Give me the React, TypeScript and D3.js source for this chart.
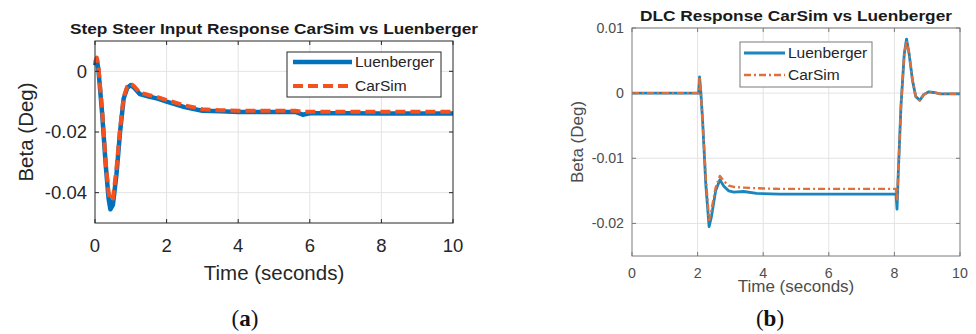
import React from "react";
import * as d3 from "d3";

// (a) step steer
const stepTime = [0, 0.05, 0.1, 0.2, 0.3, 0.38, 0.43, 0.5, 0.6, 0.7, 0.8, 0.9, 1.0, 1.1, 1.25, 1.5, 1.75, 2.0, 2.5, 3.0, 3.5, 4.0, 5.0, 5.6, 5.8, 6.0, 7.0, 8.0, 10.0];
const stepLuenberger = [0.002, 0.004, 0.0, -0.014, -0.031, -0.042, -0.0455, -0.044, -0.034, -0.02, -0.009, -0.0055, -0.0045, -0.0055, -0.0075, -0.0083, -0.009, -0.01, -0.0118, -0.013, -0.0132, -0.0134, -0.0134, -0.0134, -0.0143, -0.0138, -0.0138, -0.0139, -0.0139];
const stepCarSim = [0.003, 0.0045, 0.001, -0.013, -0.03, -0.04, -0.0425, -0.042, -0.032, -0.019, -0.0085, -0.005, -0.004, -0.005, -0.007, -0.0078, -0.0085, -0.0095, -0.0112, -0.0125, -0.0128, -0.013, -0.013, -0.013, -0.0133, -0.0133, -0.0133, -0.0133, -0.0133];

// (b) double lane change
const dlcTime = [0, 2.03, 2.06, 2.1, 2.15, 2.25, 2.35, 2.42, 2.55, 2.68, 2.8, 2.95, 3.1, 3.4, 3.8, 4.5, 5.5, 6.5, 7.5, 8.05, 8.08, 8.12, 8.2, 8.3, 8.37, 8.45, 8.55, 8.65, 8.77, 8.9, 9.05, 9.2, 9.4, 10];
const dlcLuenberger = [0, 0, 0.0025, 0, -0.004, -0.014, -0.0205, -0.019, -0.015, -0.0133, -0.0143, -0.015, -0.0152, -0.0151, -0.0154, -0.0155, -0.0155, -0.0155, -0.0155, -0.0155, -0.0178, -0.012, -0.002, 0.006, 0.0083, 0.006, 0.002, -0.0005, -0.0011, -0.0002, 0.0002, 0.0001, -0.0001, -0.0001];
const dlcCarSim = [0, 0, 0.0025, 0, -0.004, -0.013, -0.0195, -0.018, -0.0145, -0.0127, -0.0135, -0.0142, -0.0144, -0.0145, -0.0146, -0.0147, -0.0147, -0.0147, -0.0147, -0.0147, -0.0165, -0.012, -0.002, 0.006, 0.008, 0.006, 0.002, -0.0005, -0.0011, -0.0002, 0.0002, 0.0001, -0.0001, -0.0001];

const xTicks = [0, 2, 4, 6, 8, 10];
const stepYTicks = [0, -0.02, -0.04];
const dlcYTicks = [0.01, 0, -0.01, -0.02];

const FONT = "'Liberation Sans', Arial, sans-serif";

interface PanelProps {
  box: [number, number, number, number]; // left, top, right, bottom
  yDomain: [number, number];
  yTicks: number[];
  yFmt: (v: number) => string;
  time: number[];
  luen: number[];
  carsim: number[];
  title: string;
  titleY: number;
  titleSize: number;
  titleLen: number;
  tickSize: number;
  tickColor: string;
  tickLabelY: number;
  xLabelY: number;
  labelSize: number;
  yLabelX: number;
  axisColor: string;
  blue: string;
  orange: string;
  blueW: number;
  orangeW: number;
  dash: string;
  legend: [number, number, number, number];
  legendLine: [number, number];
  legendRows: [number, number];
}

const Panel: React.FC<PanelProps> = (p) => {
  const [l, t, r, b] = p.box;
  const x = d3.scaleLinear().domain([0, 10]).range([l, r]);
  const y = d3.scaleLinear().domain(p.yDomain).range([b, t]);
  const line = d3
    .line<number>()
    .x((_, i) => x(p.time[i]))
    .y((d) => y(d));
  const tl = 4;
  const [lx0, ly0, lx1, ly1] = p.legend;

  return (
    <g>
      {/* grid */}
      {xTicks.slice(1, -1).map((v) => (
        <line key={"gx" + v} x1={x(v)} x2={x(v)} y1={t} y2={b} stroke="#e3e3e3" strokeWidth={1} />
      ))}
      {p.yTicks.map((v) => (
        <line key={"gy" + v} x1={l} x2={r} y1={y(v)} y2={y(v)} stroke="#e3e3e3" strokeWidth={1} />
      ))}

      {/* series */}
      <path d={line(p.luen) || ""} fill="none" stroke={p.blue} strokeWidth={p.blueW} strokeLinejoin="round" />
      <path d={line(p.carsim) || ""} fill="none" stroke={p.orange} strokeWidth={p.orangeW} strokeDasharray={p.dash} strokeLinejoin="round" />

      {/* box and ticks */}
      <rect x={l} y={t} width={r - l} height={b - t} fill="none" stroke={p.axisColor} strokeWidth={1} />
      {xTicks.map((v) => (
        <g key={"tx" + v}>
          <line x1={x(v)} x2={x(v)} y1={b} y2={b - tl} stroke={p.axisColor} />
          <line x1={x(v)} x2={x(v)} y1={t} y2={t + tl} stroke={p.axisColor} />
          <text x={x(v)} y={p.tickLabelY} textAnchor="middle" fontSize={p.tickSize} fill={p.tickColor} fontFamily={FONT}>
            {v}
          </text>
        </g>
      ))}
      {p.yTicks.map((v) => (
        <g key={"ty" + v}>
          <line x1={l} x2={l + tl} y1={y(v)} y2={y(v)} stroke={p.axisColor} />
          <line x1={r} x2={r - tl} y1={y(v)} y2={y(v)} stroke={p.axisColor} />
          <text x={l - 8} y={y(v)} dy="0.35em" textAnchor="end" fontSize={p.tickSize} fill={p.tickColor} fontFamily={FONT}>
            {p.yFmt(v)}
          </text>
        </g>
      ))}

      {/* labels */}
      <text x={(l + r) / 2} y={p.titleY} textAnchor="middle" fontSize={p.titleSize} fontWeight="bold" fill="#1a1a1a" fontFamily={FONT} textLength={p.titleLen} lengthAdjust="spacingAndGlyphs">
        {p.title}
      </text>
      <text x={(l + r) / 2} y={p.xLabelY} textAnchor="middle" fontSize={p.labelSize} fill={p.tickColor} fontFamily={FONT}>
        Time (seconds)
      </text>
      <text transform={`translate(${p.yLabelX},${(t + b) / 2}) rotate(-90)`} textAnchor="middle" fontSize={p.labelSize} fill={p.tickColor} fontFamily={FONT}>
        Beta (Deg)
      </text>

      {/* legend */}
      <rect x={lx0} y={ly0} width={lx1 - lx0} height={ly1 - ly0} fill="#fff" stroke={p.axisColor} strokeWidth={1} />
      <line x1={p.legendLine[0]} x2={p.legendLine[1]} y1={p.legendRows[0]} y2={p.legendRows[0]} stroke={p.blue} strokeWidth={p.blueW} />
      <line x1={p.legendLine[0]} x2={p.legendLine[1]} y1={p.legendRows[1]} y2={p.legendRows[1]} stroke={p.orange} strokeWidth={p.orangeW} strokeDasharray={p.dash} />
      <text x={p.legendLine[1] + 3} y={p.legendRows[0]} dy="0.35em" fontSize={15.5} fill="#262626" fontFamily={FONT}>
        Luenberger
      </text>
      <text x={p.legendLine[1] + 3} y={p.legendRows[1]} dy="0.35em" fontSize={15.5} fill="#262626" fontFamily={FONT}>
        CarSim
      </text>
    </g>
  );
};

const App: React.FC = () => {
  const fmt = (v: number) => (v === 0 ? "0" : String(v));
  return (
    <svg width={976} height={334} style={{ position: "absolute", left: 0, top: 0, background: "#fff" }}>
      <rect width={976} height={334} fill="#fff" />
      <Panel
        box={[95, 41, 453, 223]}
        yDomain={[-0.05, 0.01]}
        yTicks={stepYTicks}
        yFmt={fmt}
        time={stepTime}
        luen={stepLuenberger}
        carsim={stepCarSim}
        title="Step Steer Input Response CarSim vs Luenberger"
        titleY={34}
        titleSize={15}
        titleLen={408}
        tickSize={18.5}
        tickColor="#262626"
        tickLabelY={252}
        xLabelY={280}
        labelSize={20.5}
        yLabelX={33}
        axisColor="#262626"
        blue="#0072BD"
        orange="#F4511E"
        blueW={4.5}
        orangeW={4}
        dash="10,5"
        legend={[287, 52, 441, 97]}
        legendLine={[293, 352]}
        legendRows={[62, 86]}
      />
      <Panel
        box={[632, 28, 960, 256]}
        yDomain={[-0.025, 0.01]}
        yTicks={dlcYTicks}
        yFmt={fmt}
        time={dlcTime}
        luen={dlcLuenberger}
        carsim={dlcCarSim}
        title="DLC Response CarSim vs Luenberger"
        titleY={21}
        titleSize={15}
        titleLen={312}
        tickSize={14.2}
        tickColor="#4d4d4d"
        tickLabelY={278}
        xLabelY={292}
        labelSize={17}
        yLabelX={583}
        axisColor="#7a7a7a"
        blue="#1A86BE"
        orange="#E0703A"
        blueW={2.8}
        orangeW={2.4}
        dash="7,3,2,3"
        legend={[740, 42, 872, 87]}
        legendLine={[744, 785]}
        legendRows={[53, 75]}
      />
      <text x={245} y={326} textAnchor="middle" fontSize={23} fontFamily="'Liberation Serif', 'DejaVu Serif', serif" fill="#111">
        (<tspan fontWeight="bold">a</tspan>)
      </text>
      <text x={770} y={326} textAnchor="middle" fontSize={23} fontFamily="'Liberation Serif', 'DejaVu Serif', serif" fill="#111">
        (<tspan fontWeight="bold">b</tspan>)
      </text>
    </svg>
  );
};

export default App;
